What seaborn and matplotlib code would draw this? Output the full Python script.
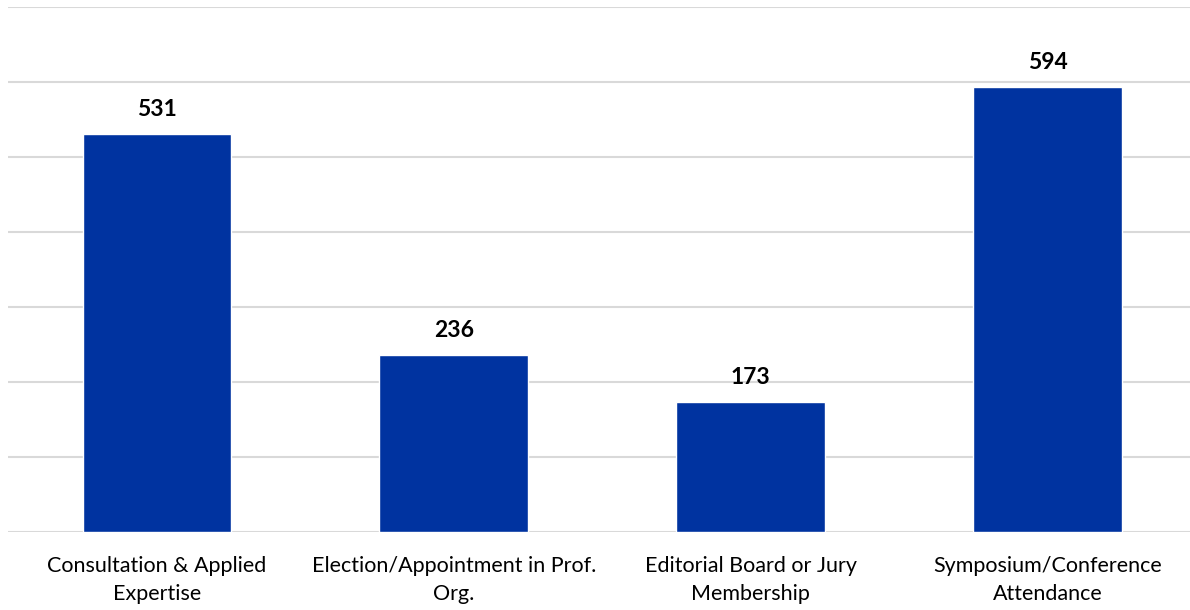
import pandas as pd
import matplotlib.pyplot as plt
import seaborn as sns

categories = [
    "Consultation & Applied\nExpertise",
    "Election/Appointment in Prof.\nOrg.",
    "Editorial Board or Jury\nMembership",
    "Symposium/Conference\nAttendance",
]
counts = [531, 236, 173, 594]

df = pd.DataFrame({"category": categories, "count": counts})

sns.set_theme(style="white")
plt.rcParams["font.family"] = ["Lato", "DejaVu Sans"]

fig = plt.figure(figsize=(11.9, 6.1), dpi=100)
ax = fig.add_axes([0.007, 0.128, 0.998, 0.8605])

sns.barplot(data=df, x="category", y="count", color="#0033A0", width=0.5,
            saturation=1, ax=ax, zorder=3)

ax.set_ylim(0, 700)
ax.set_yticks(range(0, 701, 100))
ax.yaxis.grid(True, color="#d9d9d9", linewidth=1.5, zorder=0)
ax.set_yticklabels([])
ax.tick_params(axis="y", length=0)
ax.tick_params(axis="x", length=0, labelsize=15.5, pad=17, colors="black")
for lbl in ax.get_xticklabels():
    lbl.set_linespacing(1.5)
ax.set_xlabel("")
ax.set_ylabel("")
for s in ax.spines.values():
    s.set_visible(False)

for i, v in enumerate(counts):
    ax.annotate(str(v), (i, v), xytext=(0, 10), textcoords="offset points",
                ha="center", va="bottom", fontsize=16.5, fontweight="bold", color="black")

fig.savefig("out.png", dpi=100)
